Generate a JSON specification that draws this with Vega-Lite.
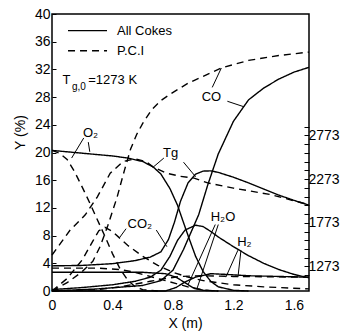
{
  "$schema": "https://vega.github.io/schema/vega-lite/v6.json",
  "width": 257,
  "height": 277,
  "autosize": {"type": "none"},
  "padding": {"left": 52, "top": 14, "right": 47, "bottom": 41},
  "background": "white",
  "config": {
    "view": {"stroke": "black", "strokeWidth": 1.5},
    "font": "Liberation Sans",
    "axis": {"grid": false, "domain": false, "labelOverlap": false, "labelColor": "black", "titleColor": "black", "tickColor": "black", "titleFontWeight": "normal", "labelFont": "Liberation Sans", "titleFont": "Liberation Sans"}
  },
  "datasets": {
    "curves": [
      {"x":0,"v":20.3,"s":"O2","c":"All Cokes"},{"x":0.1,"v":20.1,"s":"O2","c":"All Cokes"},{"x":0.2,"v":19.9,"s":"O2","c":"All Cokes"},{"x":0.3,"v":19.7,"s":"O2","c":"All Cokes"},{"x":0.4,"v":19.5,"s":"O2","c":"All Cokes"},{"x":0.5,"v":19.2,"s":"O2","c":"All Cokes"},{"x":0.6,"v":18.7,"s":"O2","c":"All Cokes"},{"x":0.67,"v":17.9,"s":"O2","c":"All Cokes"},{"x":0.72,"v":16.9,"s":"O2","c":"All Cokes"},{"x":0.78,"v":14.8,"s":"O2","c":"All Cokes"},{"x":0.83,"v":12.4,"s":"O2","c":"All Cokes"},{"x":0.86,"v":10.5,"s":"O2","c":"All Cokes"},{"x":0.9,"v":8.0,"s":"O2","c":"All Cokes"},{"x":0.95,"v":5.0,"s":"O2","c":"All Cokes"},{"x":1.0,"v":2.8,"s":"O2","c":"All Cokes"},{"x":1.05,"v":1.4,"s":"O2","c":"All Cokes"},{"x":1.1,"v":0.6,"s":"O2","c":"All Cokes"},{"x":1.2,"v":0.1,"s":"O2","c":"All Cokes"},{"x":1.3,"v":0,"s":"O2","c":"All Cokes"},
      {"x":0,"v":0.2,"s":"CO2","c":"All Cokes"},{"x":0.2,"v":0.5,"s":"CO2","c":"All Cokes"},{"x":0.4,"v":0.9,"s":"CO2","c":"All Cokes"},{"x":0.55,"v":1.4,"s":"CO2","c":"All Cokes"},{"x":0.65,"v":2.0,"s":"CO2","c":"All Cokes"},{"x":0.72,"v":3.0,"s":"CO2","c":"All Cokes"},{"x":0.78,"v":5.0,"s":"CO2","c":"All Cokes"},{"x":0.83,"v":7.3,"s":"CO2","c":"All Cokes"},{"x":0.88,"v":8.8,"s":"CO2","c":"All Cokes"},{"x":0.95,"v":9.5,"s":"CO2","c":"All Cokes"},{"x":1.0,"v":9.3,"s":"CO2","c":"All Cokes"},{"x":1.05,"v":8.6,"s":"CO2","c":"All Cokes"},{"x":1.1,"v":7.8,"s":"CO2","c":"All Cokes"},{"x":1.2,"v":6.4,"s":"CO2","c":"All Cokes"},{"x":1.3,"v":5.1,"s":"CO2","c":"All Cokes"},{"x":1.4,"v":4.0,"s":"CO2","c":"All Cokes"},{"x":1.5,"v":3.1,"s":"CO2","c":"All Cokes"},{"x":1.6,"v":2.4,"s":"CO2","c":"All Cokes"},{"x":1.7,"v":1.9,"s":"CO2","c":"All Cokes"},
      {"x":0,"v":0,"s":"CO","c":"All Cokes"},{"x":0.3,"v":0.3,"s":"CO","c":"All Cokes"},{"x":0.6,"v":0.8,"s":"CO","c":"All Cokes"},{"x":0.72,"v":1.5,"s":"CO","c":"All Cokes"},{"x":0.8,"v":3.0,"s":"CO","c":"All Cokes"},{"x":0.87,"v":6.0,"s":"CO","c":"All Cokes"},{"x":0.92,"v":8.5,"s":"CO","c":"All Cokes"},{"x":0.97,"v":11.0,"s":"CO","c":"All Cokes"},{"x":1.03,"v":15.3,"s":"CO","c":"All Cokes"},{"x":1.1,"v":19.8,"s":"CO","c":"All Cokes"},{"x":1.2,"v":24.5,"s":"CO","c":"All Cokes"},{"x":1.3,"v":27.6,"s":"CO","c":"All Cokes"},{"x":1.4,"v":29.3,"s":"CO","c":"All Cokes"},{"x":1.5,"v":30.6,"s":"CO","c":"All Cokes"},{"x":1.6,"v":31.6,"s":"CO","c":"All Cokes"},{"x":1.7,"v":32.3,"s":"CO","c":"All Cokes"},
      {"x":0,"v":2.7,"s":"H2O","c":"All Cokes"},{"x":0.6,"v":2.7,"s":"H2O","c":"All Cokes"},{"x":0.75,"v":2.5,"s":"H2O","c":"All Cokes"},{"x":0.82,"v":2.0,"s":"H2O","c":"All Cokes"},{"x":0.88,"v":1.2,"s":"H2O","c":"All Cokes"},{"x":0.93,"v":0.5,"s":"H2O","c":"All Cokes"},{"x":1.0,"v":0.1,"s":"H2O","c":"All Cokes"},{"x":1.1,"v":0,"s":"H2O","c":"All Cokes"},
      {"x":0,"v":0,"s":"H2","c":"All Cokes"},{"x":0.75,"v":0,"s":"H2","c":"All Cokes"},{"x":0.82,"v":0.5,"s":"H2","c":"All Cokes"},{"x":0.88,"v":1.3,"s":"H2","c":"All Cokes"},{"x":0.95,"v":2.0,"s":"H2","c":"All Cokes"},{"x":1.05,"v":2.5,"s":"H2","c":"All Cokes"},{"x":1.15,"v":2.4,"s":"H2","c":"All Cokes"},{"x":1.3,"v":2.2,"s":"H2","c":"All Cokes"},{"x":1.5,"v":2.1,"s":"H2","c":"All Cokes"},{"x":1.7,"v":2.0,"s":"H2","c":"All Cokes"},
      {"x":0,"v":20.3,"s":"O2","c":"P.C.I"},{"x":0.05,"v":19.9,"s":"O2","c":"P.C.I"},{"x":0.1,"v":19.0,"s":"O2","c":"P.C.I"},{"x":0.15,"v":17.2,"s":"O2","c":"P.C.I"},{"x":0.2,"v":15.0,"s":"O2","c":"P.C.I"},{"x":0.25,"v":12.7,"s":"O2","c":"P.C.I"},{"x":0.3,"v":10.3,"s":"O2","c":"P.C.I"},{"x":0.35,"v":7.9,"s":"O2","c":"P.C.I"},{"x":0.4,"v":5.4,"s":"O2","c":"P.C.I"},{"x":0.45,"v":3.2,"s":"O2","c":"P.C.I"},{"x":0.5,"v":1.6,"s":"O2","c":"P.C.I"},{"x":0.55,"v":0.6,"s":"O2","c":"P.C.I"},{"x":0.6,"v":0.2,"s":"O2","c":"P.C.I"},{"x":0.7,"v":0,"s":"O2","c":"P.C.I"},
      {"x":0,"v":0,"s":"CO2","c":"P.C.I"},{"x":0.1,"v":1.8,"s":"CO2","c":"P.C.I"},{"x":0.2,"v":4.5,"s":"CO2","c":"P.C.I"},{"x":0.27,"v":7.2,"s":"CO2","c":"P.C.I"},{"x":0.31,"v":8.7,"s":"CO2","c":"P.C.I"},{"x":0.35,"v":9.2,"s":"CO2","c":"P.C.I"},{"x":0.4,"v":8.6,"s":"CO2","c":"P.C.I"},{"x":0.45,"v":7.6,"s":"CO2","c":"P.C.I"},{"x":0.5,"v":6.6,"s":"CO2","c":"P.C.I"},{"x":0.6,"v":5.0,"s":"CO2","c":"P.C.I"},{"x":0.7,"v":3.7,"s":"CO2","c":"P.C.I"},{"x":0.8,"v":2.7,"s":"CO2","c":"P.C.I"},{"x":0.9,"v":2.0,"s":"CO2","c":"P.C.I"},{"x":1.0,"v":1.5,"s":"CO2","c":"P.C.I"},{"x":1.2,"v":0.9,"s":"CO2","c":"P.C.I"},{"x":1.4,"v":0.6,"s":"CO2","c":"P.C.I"},{"x":1.7,"v":0.3,"s":"CO2","c":"P.C.I"},
      {"x":0,"v":0,"s":"CO","c":"P.C.I"},{"x":0.1,"v":1.2,"s":"CO","c":"P.C.I"},{"x":0.2,"v":2.8,"s":"CO","c":"P.C.I"},{"x":0.27,"v":4.3,"s":"CO","c":"P.C.I"},{"x":0.32,"v":6.5,"s":"CO","c":"P.C.I"},{"x":0.37,"v":9.5,"s":"CO","c":"P.C.I"},{"x":0.43,"v":13.5,"s":"CO","c":"P.C.I"},{"x":0.48,"v":17.5,"s":"CO","c":"P.C.I"},{"x":0.52,"v":20.5,"s":"CO","c":"P.C.I"},{"x":0.56,"v":22.6,"s":"CO","c":"P.C.I"},{"x":0.6,"v":24.2,"s":"CO","c":"P.C.I"},{"x":0.66,"v":26.2,"s":"CO","c":"P.C.I"},{"x":0.72,"v":27.5,"s":"CO","c":"P.C.I"},{"x":0.78,"v":28.4,"s":"CO","c":"P.C.I"},{"x":0.9,"v":30.0,"s":"CO","c":"P.C.I"},{"x":1.0,"v":31.0,"s":"CO","c":"P.C.I"},{"x":1.12,"v":32.2,"s":"CO","c":"P.C.I"},{"x":1.3,"v":33.3,"s":"CO","c":"P.C.I"},{"x":1.5,"v":34.0,"s":"CO","c":"P.C.I"},{"x":1.7,"v":34.5,"s":"CO","c":"P.C.I"},
      {"x":0,"v":3.3,"s":"H2O","c":"P.C.I"},{"x":0.3,"v":3.3,"s":"H2O","c":"P.C.I"},{"x":0.45,"v":3.1,"s":"H2O","c":"P.C.I"},{"x":0.55,"v":2.7,"s":"H2O","c":"P.C.I"},{"x":0.65,"v":2.1,"s":"H2O","c":"P.C.I"},{"x":0.75,"v":1.5,"s":"H2O","c":"P.C.I"},{"x":0.85,"v":0.9,"s":"H2O","c":"P.C.I"},{"x":0.93,"v":0.4,"s":"H2O","c":"P.C.I"},{"x":1.0,"v":0.15,"s":"H2O","c":"P.C.I"},{"x":1.1,"v":0,"s":"H2O","c":"P.C.I"},
      {"x":0,"v":0,"s":"H2","c":"P.C.I"},{"x":0.3,"v":0.2,"s":"H2","c":"P.C.I"},{"x":0.45,"v":0.6,"s":"H2","c":"P.C.I"},{"x":0.55,"v":1.0,"s":"H2","c":"P.C.I"},{"x":0.65,"v":1.4,"s":"H2","c":"P.C.I"},{"x":0.75,"v":1.8,"s":"H2","c":"P.C.I"},{"x":0.85,"v":2.1,"s":"H2","c":"P.C.I"},{"x":1.0,"v":2.2,"s":"H2","c":"P.C.I"},{"x":1.2,"v":2.1,"s":"H2","c":"P.C.I"},{"x":1.45,"v":2.05,"s":"H2","c":"P.C.I"},{"x":1.7,"v":2.0,"s":"H2","c":"P.C.I"}
    ],
    "tg": [
      {"x":0,"T":1280,"c":"All Cokes"},{"x":0.2,"T":1285,"c":"All Cokes"},{"x":0.4,"T":1305,"c":"All Cokes"},{"x":0.55,"T":1340,"c":"All Cokes"},{"x":0.65,"T":1380,"c":"All Cokes"},{"x":0.72,"T":1440,"c":"All Cokes"},{"x":0.77,"T":1580,"c":"All Cokes"},{"x":0.81,"T":1780,"c":"All Cokes"},{"x":0.85,"T":2020,"c":"All Cokes"},{"x":0.9,"T":2230,"c":"All Cokes"},{"x":0.95,"T":2330,"c":"All Cokes"},{"x":1.0,"T":2365,"c":"All Cokes"},{"x":1.05,"T":2368,"c":"All Cokes"},{"x":1.1,"T":2350,"c":"All Cokes"},{"x":1.2,"T":2295,"c":"All Cokes"},{"x":1.3,"T":2230,"c":"All Cokes"},{"x":1.4,"T":2160,"c":"All Cokes"},{"x":1.5,"T":2090,"c":"All Cokes"},{"x":1.6,"T":2030,"c":"All Cokes"},{"x":1.7,"T":1975,"c":"All Cokes"},
      {"x":0,"T":1404,"c":"P.C.I"},{"x":0.12,"T":1690,"c":"P.C.I"},{"x":0.22,"T":1864,"c":"P.C.I"},{"x":0.3,"T":2070,"c":"P.C.I"},{"x":0.385,"T":2340,"c":"P.C.I"},{"x":0.47,"T":2475,"c":"P.C.I"},{"x":0.55,"T":2506,"c":"P.C.I"},{"x":0.62,"T":2475,"c":"P.C.I"},{"x":0.67,"T":2411,"c":"P.C.I"},{"x":0.76,"T":2340,"c":"P.C.I"},{"x":0.85,"T":2305,"c":"P.C.I"},{"x":0.94,"T":2285,"c":"P.C.I"},{"x":1.03,"T":2230,"c":"P.C.I"},{"x":1.2,"T":2170,"c":"P.C.I"},{"x":1.3,"T":2140,"c":"P.C.I"},{"x":1.45,"T":2095,"c":"P.C.I"},{"x":1.6,"T":2025,"c":"P.C.I"},{"x":1.7,"T":1980,"c":"P.C.I"}
    ],
    "legend": [
      {"x":0.106,"x2":0.364,"y":37.6,"c":"All Cokes"},
      {"x":0.106,"x2":0.364,"y":34.7,"c":"P.C.I"}
    ],
    "leaders": [
      {"x":0.21,"y":22.1,"x2":0.13,"y2":19.2},
      {"x":0.24,"y":21.5,"x2":0.25,"y2":20.1},
      {"x":0.74,"y":19.2,"x2":0.67,"y2":17.9},
      {"x":0.87,"y":18.6,"x2":0.95,"y2":16.5},
      {"x":1.06,"y":29.4,"x2":1.12,"y2":32.2},
      {"x":1.16,"y":27.4,"x2":1.27,"y2":26.6},
      {"x":0.49,"y":9.0,"x2":0.45,"y2":7.8},
      {"x":0.69,"y":8.8,"x2":0.76,"y2":6.4},
      {"x":1.08,"y":9.6,"x2":0.9,"y2":0.9},
      {"x":1.1,"y":9.6,"x2":0.96,"y2":0.4},
      {"x":1.23,"y":5.9,"x2":1.15,"y2":2.0},
      {"x":1.25,"y":5.9,"x2":1.23,"y2":2.0}
    ],
    "labels": [
      {"x":0.43,"y":37.5,"t":"All Cokes"},
      {"x":0.43,"y":34.6,"t":"P.C.I"},
      {"x":0.07,"y":30.5,"t":"T"},
      {"x":0.24,"y":30.5,"t":"=1273 K"},
      {"x":0.205,"y":22.8,"t":"O₂"},
      {"x":0.735,"y":19.9,"t":"Tg"},
      {"x":0.99,"y":28.0,"t":"CO"},
      {"x":0.5,"y":9.7,"t":"CO₂"},
      {"x":1.05,"y":10.7,"t":"H₂O"},
      {"x":1.225,"y":7.1,"t":"H₂"}
    ],
    "subs": [
      {"x":0.132,"y":29.4,"t":"g,0"}
    ]
  },
  "layer": [
    {
      "layer": [
        {
          "data": {"name": "curves"},
          "mark": {"type": "line", "strokeWidth": 1.4, "color": "black"},
          "encoding": {
            "x": {"field": "x", "type": "quantitative", "scale": {"domain": [0, 1.7], "nice": false, "zero": false},
              "axis": {"values": [0, 0.4, 0.8, 1.2, 1.6], "labelExpr": "datum.value == 0 ? '0' : format(datum.value, '.1f')", "labelFlush": false, "ticks": false, "labelPadding": 7, "labelFontSize": 14, "labelOverlap": false, "title": "X (m)", "titleFontSize": 14, "titleX": 133, "titleY": 32, "titleBaseline": "middle"}},
            "y": {"field": "v", "type": "quantitative", "scale": {"domain": [0, 40], "nice": false},
              "axis": {"values": [0,4,8,12,16,20,24,28,32,36,40], "tickSize": -4, "labelPadding": 6, "labelFontSize": 14, "labelOverlap": false, "title": "Y (%)", "titleFontSize": 14, "titleX": -32, "titleY": 118, "titleBaseline": "middle"}},
            "detail": {"field": "s"},
            "strokeDash": {"field": "c", "type": "nominal", "scale": {"domain": ["All Cokes", "P.C.I"], "range": [[1, 0], [7, 5]]}, "legend": null}
          }
        },
        {
          "data": {"name": "legend"},
          "mark": {"type": "rule", "strokeWidth": 1.4, "color": "black"},
          "encoding": {
            "x": {"field": "x", "type": "quantitative",
              "axis": {"values": [0, 0.4, 0.8, 1.2, 1.6], "labelExpr": "datum.value == 0 ? '0' : format(datum.value, '.1f')", "labelFlush": false, "ticks": false, "labelPadding": 7, "labelFontSize": 14, "labelOverlap": false, "title": "X (m)", "titleFontSize": 14, "titleX": 133, "titleY": 32, "titleBaseline": "middle"}},
            "x2": {"field": "x2"},
            "y": {"field": "y", "type": "quantitative",
              "axis": {"values": [0,4,8,12,16,20,24,28,32,36,40], "tickSize": -4, "labelPadding": 6, "labelFontSize": 14, "labelOverlap": false, "title": "Y (%)", "titleFontSize": 14, "titleX": -32, "titleY": 118, "titleBaseline": "middle"}},
            "strokeDash": {"field": "c", "type": "nominal", "legend": null}
          }
        },
        {
          "data": {"name": "leaders"},
          "mark": {"type": "rule", "strokeWidth": 1, "color": "black"},
          "encoding": {
            "x": {"field": "x", "type": "quantitative",
              "axis": {"values": [0, 0.4, 0.8, 1.2, 1.6], "labelExpr": "datum.value == 0 ? '0' : format(datum.value, '.1f')", "labelFlush": false, "ticks": false, "labelPadding": 7, "labelFontSize": 14, "labelOverlap": false, "title": "X (m)", "titleFontSize": 14, "titleX": 133, "titleY": 32, "titleBaseline": "middle"}},
            "x2": {"field": "x2"},
            "y": {"field": "y", "type": "quantitative",
              "axis": {"values": [0,4,8,12,16,20,24,28,32,36,40], "tickSize": -4, "labelPadding": 6, "labelFontSize": 14, "labelOverlap": false, "title": "Y (%)", "titleFontSize": 14, "titleX": -32, "titleY": 118, "titleBaseline": "middle"}},
            "y2": {"field": "y2"}
          }
        },
        {
          "data": {"name": "labels"},
          "mark": {"type": "text", "align": "left", "baseline": "middle", "fontSize": 13, "color": "black", "font": "Liberation Sans"},
          "encoding": {
            "x": {"field": "x", "type": "quantitative",
              "axis": {"values": [0, 0.4, 0.8, 1.2, 1.6], "labelExpr": "datum.value == 0 ? '0' : format(datum.value, '.1f')", "labelFlush": false, "ticks": false, "labelPadding": 7, "labelFontSize": 14, "labelOverlap": false, "title": "X (m)", "titleFontSize": 14, "titleX": 133, "titleY": 32, "titleBaseline": "middle"}},
            "y": {"field": "y", "type": "quantitative",
              "axis": {"values": [0,4,8,12,16,20,24,28,32,36,40], "tickSize": -4, "labelPadding": 6, "labelFontSize": 14, "labelOverlap": false, "title": "Y (%)", "titleFontSize": 14, "titleX": -32, "titleY": 118, "titleBaseline": "middle"}},
            "text": {"field": "t"}
          }
        },
        {
          "data": {"name": "subs"},
          "mark": {"type": "text", "align": "left", "baseline": "middle", "fontSize": 10, "color": "black", "font": "Liberation Sans"},
          "encoding": {
            "x": {"field": "x", "type": "quantitative",
              "axis": {"values": [0, 0.4, 0.8, 1.2, 1.6], "labelExpr": "datum.value == 0 ? '0' : format(datum.value, '.1f')", "labelFlush": false, "ticks": false, "labelPadding": 7, "labelFontSize": 14, "labelOverlap": false, "title": "X (m)", "titleFontSize": 14, "titleX": 133, "titleY": 32, "titleBaseline": "middle"}},
            "y": {"field": "y", "type": "quantitative",
              "axis": {"values": [0,4,8,12,16,20,24,28,32,36,40], "tickSize": -4, "labelPadding": 6, "labelFontSize": 14, "labelOverlap": false, "title": "Y (%)", "titleFontSize": 14, "titleX": -32, "titleY": 118, "titleBaseline": "middle"}},
            "text": {"field": "t"}
          }
        }
      ]
    },
    {
      "data": {"name": "tg"},
      "mark": {"type": "line", "strokeWidth": 1.4, "color": "black"},
      "encoding": {
        "x": {"field": "x", "type": "quantitative",
          "axis": {"values": [0, 0.4, 0.8, 1.2, 1.6], "labelExpr": "datum.value == 0 ? '0' : format(datum.value, '.1f')", "labelFlush": false, "ticks": false, "labelPadding": 7, "labelFontSize": 14, "labelOverlap": false, "title": "X (m)", "titleFontSize": 14, "titleX": 133, "titleY": 32, "titleBaseline": "middle"}},
        "y": {"field": "T", "type": "quantitative", "scale": {"domain": [992, 4164], "nice": false, "zero": false},
          "axis": {"orient": "right", "values": [1173,1273,1373,1473,1573,1673,1773,1873,1973,2073,2173,2273,2373,2473,2573,2673,2773,2873], "format": "d", "labelExpr": "(datum.value - 1273) % 500 == 0 ? datum.label : ''", "labelOverlap": false, "tickSize": -5, "labelPadding": 4, "labelFontSize": 14, "title": null}},
        "strokeDash": {"field": "c", "type": "nominal", "legend": null}
      }
    }
  ],
  "resolve": {"scale": {"y": "independent"}}
}
